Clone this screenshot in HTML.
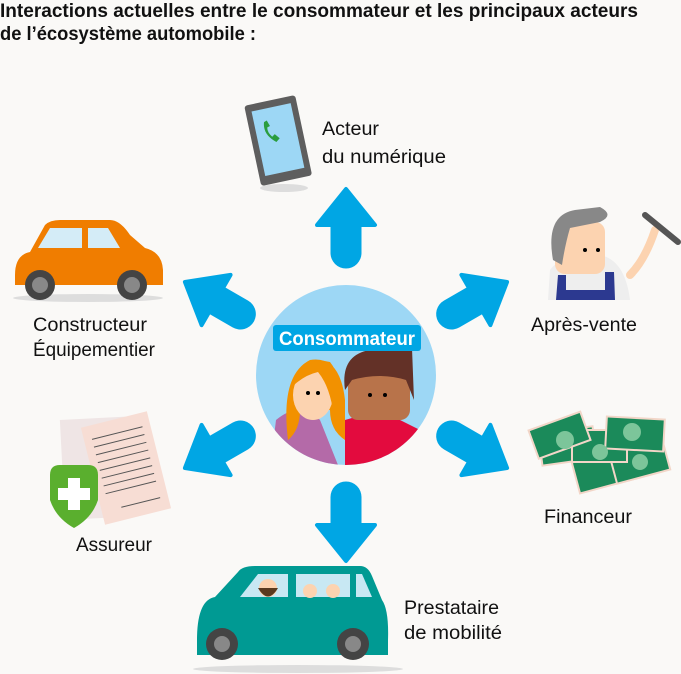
<!DOCTYPE html>
<html><head><meta charset="utf-8"><style>
html,body{margin:0;padding:0;background:#faf9f7;}
svg{display:block;}
text{font-family:"Liberation Sans Narrow","Liberation Sans",sans-serif;}
</style></head><body>
<svg width="681" height="674" viewBox="0 0 681 674" xmlns="http://www.w3.org/2000/svg">
<rect width="681" height="674" fill="#faf9f7"/>
<text x="0" y="17" font-size="19" font-weight="bold" fill="#111" textLength="638" lengthAdjust="spacingAndGlyphs">Interactions actuelles entre le consommateur et les principaux acteurs</text>
<text x="0" y="40" font-size="19" font-weight="bold" fill="#111" textLength="256" lengthAdjust="spacingAndGlyphs">de l’écosystème automobile :</text>

<!-- arrows -->
<defs>
<g id="arr">
<line x1="122" y1="0" x2="150" y2="0" stroke="#00a6e4" stroke-width="31" stroke-linecap="round"/>
<path d="M150,-29 L186,0 L150,29 Z" fill="#00a6e4" stroke="#00a6e4" stroke-width="4" stroke-linejoin="round"/>
</g>
</defs>
<g transform="translate(346,375)">
<use href="#arr" transform="rotate(-90)"/>
<use href="#arr" transform="rotate(90)"/>
<use href="#arr" transform="rotate(-30)"/>
<use href="#arr" transform="rotate(30)"/>
<use href="#arr" transform="rotate(-150)"/>
<use href="#arr" transform="rotate(150)"/>
</g>

<!-- center circle -->
<clipPath id="cc"><circle cx="346" cy="375" r="90"/></clipPath>
<circle cx="346" cy="375" r="90" fill="#9dd7f5"/>
<g clip-path="url(#cc)">
<path d="M276,420 Q300,400 320,420 L340,470 L270,470 Z" fill="#b46aa8"/>
<path d="M288,440 Q280,375 310,360 Q340,355 345,400 L345,440 Q330,430 330,410 L300,410 Q300,430 288,440Z" fill="#f29100"/>
<ellipse cx="313" cy="395" rx="20" ry="25" fill="#fcd3b0"/>
<path d="M294,385 Q300,355 330,362 Q345,380 345,440 L335,430 Q333,390 318,372 Q305,375 294,385Z" fill="#f29100"/>
<path d="M345,420 L380,410 L420,430 L420,470 L345,470Z" fill="#e30b3e"/>
<rect x="348" y="360" width="62" height="60" rx="10" fill="#b8734a"/>
<path d="M345,390 Q340,355 370,350 L412,348 L414,400 L406,380 Q380,372 352,380 Z" fill="#633127"/>
<circle cx="370" cy="395" r="2" fill="#000"/><circle cx="385" cy="395" r="2" fill="#000"/>
<circle cx="308" cy="393" r="2" fill="#000"/><circle cx="318" cy="393" r="2" fill="#000"/>
</g>
<rect x="273" y="325" width="148" height="26" rx="3" fill="#00a6e4"/>
<text x="347" y="345" font-size="19" font-weight="bold" fill="#fff" text-anchor="middle" textLength="136" lengthAdjust="spacingAndGlyphs">Consommateur</text>

<!-- phone -->
<ellipse cx="284" cy="188" rx="24" ry="4" fill="#ddd"/>
<g transform="rotate(-12 276 140)">
<rect x="252" y="100" width="52" height="82" rx="3" fill="#5e5e5e"/>
<rect x="258" y="107" width="40" height="66" fill="#9dd7f5"/>
<path d="M268,120 q-4,12 8,22 l4,-3 -4,-5 -3,2 q-4,-5 -3,-10 l3,-1 -2,-6z" fill="#2a9d3e"/>
</g>
<text x="322" y="135" font-size="19" fill="#111" textLength="57" lengthAdjust="spacingAndGlyphs">Acteur</text>
<text x="322" y="163" font-size="19" fill="#111" textLength="124" lengthAdjust="spacingAndGlyphs">du numérique</text>

<!-- orange car -->
<ellipse cx="88" cy="298" rx="75" ry="4" fill="#ddd"/>
<path d="M15,275 Q15,255 30,252 L45,225 Q50,220 60,220 L110,220 Q120,220 130,235 L145,248 Q162,252 163,270 L163,285 L15,285Z" fill="#f07d00"/>
<path d="M38,248 L50,228 L82,228 L82,248Z" fill="#d4ecf7"/>
<path d="M88,228 L108,228 L120,248 L88,248Z" fill="#d4ecf7"/>
<circle cx="40" cy="285" r="15" fill="#444"/><circle cx="40" cy="285" r="8" fill="#888"/>
<circle cx="132" cy="285" r="15" fill="#444"/><circle cx="132" cy="285" r="8" fill="#888"/>
<text x="33" y="331" font-size="19" fill="#111" textLength="114" lengthAdjust="spacingAndGlyphs">Constructeur</text>
<text x="33" y="356" font-size="19" fill="#111" textLength="122" lengthAdjust="spacingAndGlyphs">Équipementier</text>

<!-- mechanic -->
<path d="M548,300 L550,270 Q560,255 600,255 Q625,260 630,300Z" fill="#eee"/>
<path d="M556,300 L558,275 L566,275 L566,290 L605,290 L605,272 L614,272 L615,300Z" fill="#2c3990"/>
<rect x="555" y="222" width="50" height="52" rx="10" fill="#fcd3b0"/>
<path d="M553,260 Q545,215 575,210 L600,207 Q615,215 600,222 L570,228 Q565,245 562,265Z" fill="#888"/>
<circle cx="585" cy="250" r="2" fill="#000"/><circle cx="598" cy="250" r="2" fill="#000"/>
<path d="M630,275 Q645,260 655,230" stroke="#fcd3b0" stroke-width="8" fill="none" stroke-linecap="round"/>
<path d="M645,215 L678,242" stroke="#555" stroke-width="6" stroke-linecap="round"/>
<text x="531" y="331" font-size="19" fill="#111" textLength="106" lengthAdjust="spacingAndGlyphs">Après-vente</text>

<!-- documents + shield -->
<g transform="rotate(-3 100 460)"><rect x="62" y="418" width="70" height="100" fill="#efe5e5"/></g>
<g transform="rotate(-14 125 460)"><rect x="90" y="418" width="68" height="100" fill="#f7ddd4"/>
<g stroke="#555" stroke-width="1"><line x1="98" y1="432" x2="150" y2="432"/><line x1="98" y1="440" x2="150" y2="440"/><line x1="98" y1="448" x2="150" y2="448"/><line x1="98" y1="456" x2="150" y2="456"/><line x1="98" y1="464" x2="150" y2="464"/><line x1="98" y1="472" x2="150" y2="472"/><line x1="98" y1="480" x2="150" y2="480"/><line x1="98" y1="488" x2="150" y2="488"/><line x1="110" y1="505" x2="150" y2="505"/></g></g>
<path d="M50,475 Q50,465 60,465 L88,465 Q98,465 98,475 L98,500 Q92,518 74,528 Q56,518 50,500Z" fill="#5aaf2e"/>
<rect x="68" y="478" width="12" height="32" fill="#fff"/><rect x="58" y="488" width="32" height="12" fill="#fff"/>
<text x="76" y="551" font-size="19" fill="#111" textLength="76" lengthAdjust="spacingAndGlyphs">Assureur</text>

<!-- money -->
<g fill="#1b8a5a" stroke="#f2d6c8" stroke-width="2">
<rect x="540" y="430" width="55" height="32" transform="rotate(-8 567 446)"/>
<rect x="575" y="455" width="55" height="32" transform="rotate(-15 602 471)"/>
<rect x="612" y="445" width="55" height="32" transform="rotate(-15 640 461)"/>
<rect x="572" y="430" width="55" height="32"/>
<rect x="532" y="420" width="55" height="30" transform="rotate(-20 560 435)"/>
<rect x="606" y="418" width="58" height="32" transform="rotate(3 635 434)"/>
</g>
<g fill="#7cc59a"><circle cx="565" cy="440" r="9"/><circle cx="632" cy="432" r="9"/><circle cx="600" cy="452" r="8"/><circle cx="640" cy="462" r="8"/></g>
<text x="544" y="523" font-size="19" fill="#111" textLength="88" lengthAdjust="spacingAndGlyphs">Financeur</text>

<!-- teal car -->
<ellipse cx="298" cy="669" rx="105" ry="4" fill="#ddd"/>
<path d="M197,640 Q197,600 215,597 L238,572 Q242,566 255,566 L360,566 Q368,566 372,576 L382,600 Q389,610 388,640 L388,655 L197,655Z" fill="#009a93"/>
<path d="M240,597 L258,574 L288,574 L288,597Z" fill="#c8e8f3"/>
<path d="M296,574 L350,574 L350,597 L296,597Z" fill="#c8e8f3"/>
<path d="M356,574 L362,574 L372,597 L356,597Z" fill="#c8e8f3"/>
<circle cx="268" cy="588" r="9" fill="#fcd3b0"/><path d="M258,588 Q268,605 278,588Z" fill="#5a3a20"/>
<circle cx="310" cy="591" r="7" fill="#fcd3b0"/><circle cx="333" cy="591" r="7" fill="#fcd3b0"/>
<circle cx="222" cy="644" r="16" fill="#444"/><circle cx="222" cy="644" r="8" fill="#888"/>
<circle cx="353" cy="644" r="16" fill="#444"/><circle cx="353" cy="644" r="8" fill="#888"/>
<text x="404" y="614" font-size="19" fill="#111" textLength="95" lengthAdjust="spacingAndGlyphs">Prestataire</text>
<text x="404" y="639" font-size="19" fill="#111" textLength="98" lengthAdjust="spacingAndGlyphs">de mobilité</text>
</svg>
</body></html>
